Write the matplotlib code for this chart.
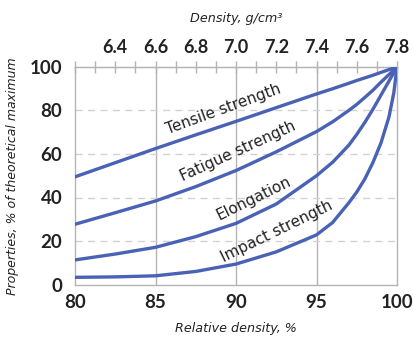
import matplotlib.pyplot as plt
import numpy as np

# relative density (%) and properties (% of theoretical maximum)
rel_density = [80, 82.5, 85, 87.5, 90, 92.5, 95, 96, 97, 97.5, 98, 98.5, 99, 99.5, 99.8, 100]
tensile = [49.5, 56, 62.5, 68.8, 75, 81.3, 87.6, 90, 92.5, 93.8, 95, 96.2, 97.5, 98.8, 99.5, 100]
fatigue = [27.7, 33, 38.4, 45, 52.4, 61, 70.3, 74.8, 80, 82.8, 86, 89.3, 93, 96.5, 98.6, 100]
elongation = [11.3, 14, 17.1, 22, 28.1, 37, 50, 56.2, 64, 69, 74.5, 80.5, 87, 93.5, 97.4, 100]
impact = [3.3, 3.5, 4, 6, 9.4, 15, 22.8, 28.5, 37.5, 42.5, 48.5, 56, 65, 77, 88, 100]

labels = ['Tensile strength', 'Fatigue strength', 'Elongation', 'Impact strength']
# label position (rel density, property) and rotation
label_pos = [(89.2, 80.4), (90.1, 61.2), (91.1, 39.7), (92.5, 24.2)]
label_rot = [20, 24.5, 26, 26]

line_color = '#4a62b6'
text_color = '#222222'
grid_color = '#b4b4b4'

fig = plt.figure(figsize=(4.14, 3.38), dpi=100)
ax = fig.add_axes([75/414, 1 - 284.5/338, (397-75)/414, (284.5-67)/338])

for series in [tensile, fatigue, elongation, impact]:
    ax.plot(rel_density, series, color=line_color, lw=2.4, solid_capstyle='round',
            solid_joinstyle='round', zorder=3)

for txt, (x, y), rot in zip(labels, label_pos, label_rot):
    ax.text(x, y, txt, rotation=rot, ha='center', va='center', fontsize=11,
            color=text_color, rotation_mode='anchor', zorder=4)

ax.set_xlim(80, 100)
ax.set_ylim(0, 100)
ax.set_xticks([80, 85, 90, 95, 100])
ax.set_yticks([0, 20, 40, 60, 80, 100])
ax.tick_params(axis='both', length=0, labelsize=13.5, colors=text_color)
ax.tick_params(axis='x', pad=7)
ax.tick_params(axis='y', pad=9)
for lab in ax.get_xticklabels() + ax.get_yticklabels():
    lab.set_fontfamily('Lato')
    lab.set_fontweight('bold')

# grid: solid verticals, dashed horizontals
for gx in [85, 90, 95]:
    ax.axvline(gx, color=grid_color, lw=1, zorder=1)
for gy in [20, 40, 60, 80]:
    ax.axhline(gy, color='#d2d2d2', lw=1, ls=(0, (5, 4)), zorder=1)

for sp in ax.spines.values():
    sp.set_color(grid_color)
    sp.set_linewidth(1)

ax.set_xlabel('Relative density, %', fontsize=9.2, style='italic', color=text_color, labelpad=8)
ax.set_ylabel('Properties, % of theoretical maximum', fontsize=9, style='italic',
              color=text_color, labelpad=8)

# top axis: density in g/cm3
def to_dens(x):
    return 6.2 + (x - 80) * 0.08

def to_rel(d):
    return 80 + (d - 6.2) / 0.08

top = ax.secondary_xaxis('top', functions=(to_dens, to_rel))
top.set_xticks(np.round(np.arange(6.4, 7.81, 0.2), 1))
top.set_xticks(np.round(np.arange(6.2, 7.81, 0.1), 1), minor=True)
top.tick_params(which='both', direction='inout', length=8, width=1, color=grid_color,
                labelsize=13, labelcolor=text_color, pad=4)
for lab in top.get_xticklabels():
    lab.set_fontfamily('Lato')
    lab.set_fontweight('bold')
top.spines['top'].set_color(grid_color)
top.set_xlabel('Density, g/cm³', fontsize=9.2, style='italic', color=text_color, labelpad=12)

fig.savefig('out.png', dpi=100)
